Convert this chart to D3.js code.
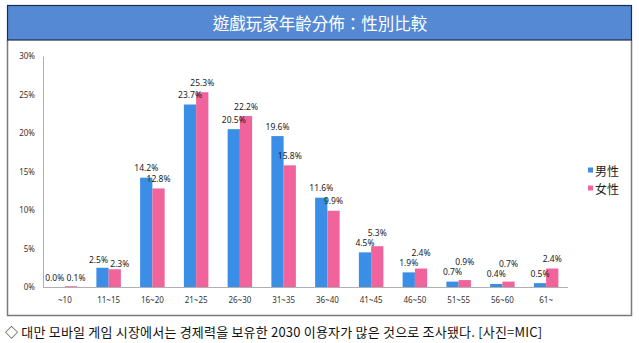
<!DOCTYPE html>
<html>
<head>
<meta charset="utf-8">
<script src="https://cdn.jsdelivr.net/npm/d3@7"></script>
<style>
  html, body { margin: 0; padding: 0; background: #fff; }
  svg { display: block; }
</style>
</head>
<body>
<svg id="chart" width="639" height="343"></svg>
<script>
// Age groups and share of players (%) by gender
const ageGroups = ["~10", "11~15", "16~20", "21~25", "26~30", "31~35", "36~40", "41~45", "46~50", "51~55", "56~60", "61~"];
const maleValues = [0.0, 2.5, 14.2, 23.7, 20.5, 19.6, 11.6, 4.5, 1.9, 0.7, 0.4, 0.5];
const femaleValues = [0.1, 2.3, 12.8, 25.3, 22.2, 15.8, 9.9, 5.3, 2.4, 0.9, 0.7, 2.4];
const seriesNames = ["男性", "女性"];
const yTicks = [0, 5, 10, 15, 20, 25, 30];

const titleText = "遊戲玩家年齡分佈：性別比較";
const captionText = "◇ 대만 모바일 게임 시장에서는 경제력을 보유한 2030 이용자가 많은 것으로 조사됐다. [사진=MIC]";

const colors = ["#3b8ee6", "#f0649b"];
const svg = d3.select("#chart");
const font = "'Noto Sans', 'DejaVu Sans', sans-serif";

// Frame around the chart body
svg.append("path")
  .attr("d", "M7.5,40 V315.5 H631.5 V40")
  .attr("fill", "none")
  .attr("stroke", "#7a7a7a")
  .attr("stroke-width", 1.5);

// Title banner
svg.append("rect")
  .attr("x", 7.5).attr("y", 5.5).attr("width", 624).attr("height", 34.5)
  .attr("fill", "#5589d3")
  .attr("stroke", "#1d2c48").attr("stroke-width", 1.2);
svg.append("text")
  .attr("x", 320).attr("y", 23)
  .attr("text-anchor", "middle").attr("dominant-baseline", "central")
  .attr("fill", "#fff")
  .attr("font-family", "'Noto Sans CJK TC', sans-serif")
  .attr("font-size", 16.5)
  .text(titleText);

// Scales
const x0 = d3.scaleBand().domain(ageGroups).range([43, 568]).paddingInner(0.44).paddingOuter(0.22);
const x1 = d3.scaleBand().domain(seriesNames).range([0, x0.bandwidth()]);
const y = d3.scaleLinear().domain([0, 30]).range([287, 56]);

// Y axis
const yAxis = d3.axisLeft(y).tickValues(yTicks).tickSize(0).tickPadding(8).tickFormat(d => d + "%");
const gy = svg.append("g").attr("transform", "translate(43,0)").call(yAxis);
gy.select(".domain").attr("stroke", "#b0b0b0");
gy.selectAll("text").attr("font-family", font).attr("font-size", 8).attr("fill", "#333");

// X axis
const xAxis = d3.axisBottom(x0).tickSize(0).tickPadding(10);
const gx = svg.append("g").attr("transform", "translate(0,287)").call(xAxis);
gx.select(".domain").attr("stroke", "#b0b0b0").attr("d", "M43,0.5H568");
gx.selectAll("text").attr("font-family", font).attr("font-size", 8).attr("fill", "#333");

// Bars
const rows = ageGroups.map((g, i) => ({ group: g, values: [maleValues[i], femaleValues[i]] }));
const groups = svg.append("g").selectAll("g").data(rows).join("g")
  .attr("transform", d => `translate(${x0(d.group)},0)`);
groups.selectAll("rect").data(d => d.values.map((v, k) => ({ v, k }))).join("rect")
  .attr("x", d => x1(seriesNames[d.k]))
  .attr("width", x1.bandwidth())
  .attr("y", d => y(d.v))
  .attr("height", d => y(0) - y(d.v))
  .attr("fill", d => colors[d.k]);

// Value labels, nudged apart where a pair would collide
const labels = [];
rows.forEach(r => {
  const bx = x0(r.group);
  const [m, f] = r.values;
  let mx = bx + x1(seriesNames[0]) + x1.bandwidth() / 2;
  let fx = bx + x1(seriesNames[1]) + x1.bandwidth() / 2;
  let my = y(m) - 10, fy = y(f) - 10;
  if (Math.abs(fy - my) < 10) {
    if (f > m + 0.15) {
      fy = my - 10;
    } else {
      mx -= 4; fx += 5;
      const yy = Math.max(my, fy);
      my = yy; fy = yy + (f < m ? 4 : 0);
    }
  }
  labels.push({ x: mx, y: my, v: m }, { x: fx, y: fy, v: f });
});
svg.append("g").selectAll("text").data(labels).join("text")
  .attr("x", d => d.x).attr("y", d => d.y)
  .attr("text-anchor", "middle").attr("dominant-baseline", "central")
  .attr("font-family", font).attr("font-size", 8.5).attr("fill", "#222")
  .text(d => d.v.toFixed(1) + "%");

// Legend
const legend = svg.append("g").selectAll("g").data(seriesNames).join("g")
  .attr("transform", (d, i) => `translate(588,${170 + i * 18})`);
legend.append("rect").attr("x", 0).attr("y", -2.5).attr("width", 5).attr("height", 5)
  .attr("fill", (d, i) => colors[i]);
legend.append("text").attr("x", 7).attr("y", 0)
  .attr("dominant-baseline", "central")
  .attr("font-family", "'Noto Sans CJK TC', sans-serif").attr("font-size", 12).attr("fill", "#222")
  .text(d => d);

// Caption beneath the chart
svg.append("text")
  .attr("x", 5).attr("y", 331)
  .attr("dominant-baseline", "central")
  .attr("font-family", "'Noto Sans CJK KR', sans-serif").attr("font-size", 13).attr("letter-spacing", 0.2)
  .attr("fill", "#111")
  .text(captionText);
</script>
</body>
</html>
